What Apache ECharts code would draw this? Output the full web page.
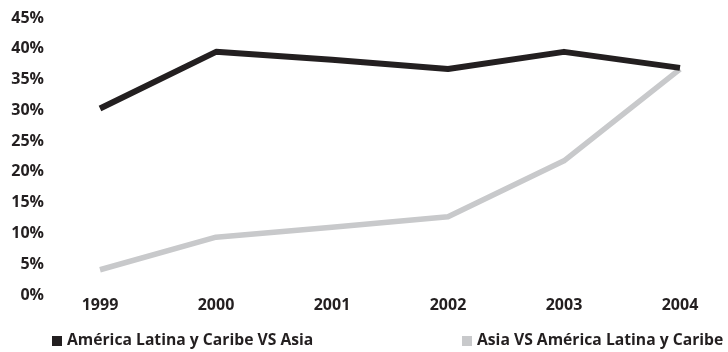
<!DOCTYPE html>
<html>
<head>
<meta charset="utf-8">
<script src="https://cdn.jsdelivr.net/npm/echarts@6/dist/echarts.min.js"></script>
<style>
  html, body { margin: 0; padding: 0; background: #fff; }
  #chart { width: 728px; height: 352px; }
</style>
</head>
<body>
<div id="chart"></div>
<script>
// Years on the horizontal axis
const years = ['1999', '2000', '2001', '2002', '2003', '2004'];
// Share (%) of each flow
const latamVsAsia = [30.3, 39.5, 38.2, 36.7, 39.5, 36.9];
const asiaVsLatam = [4.1, 9.4, 11.0, 12.7, 21.8, 36.7];
const seriesNames = ['América Latina y Caribe VS Asia', 'Asia VS América Latina y Caribe'];
// Y ticks: 0..45 step 5
const yMin = 0, yMax = 45, yStep = 5;

const font = '"Open Sans", "Noto Sans", sans-serif';
const textColor = '#231f20';

const chart = echarts.init(document.getElementById('chart'), null, { renderer: 'canvas' });
chart.setOption({
  animation: false,
  backgroundColor: '#ffffff',
  grid: { left: 100, right: 48, top: 18, bottom: 57 },
  legend: [
    {
      data: [seriesNames[0]],
      left: 52, top: 333,
      icon: 'rect', itemWidth: 10, itemHeight: 10, itemGap: 10,
      textStyle: { fontFamily: font, fontWeight: 'bold', fontSize: 15.7, color: textColor },
      padding: 0
    },
    {
      data: [seriesNames[1]],
      left: 462, top: 333,
      icon: 'rect', itemWidth: 10, itemHeight: 10, itemGap: 10,
      textStyle: { fontFamily: font, fontWeight: 'bold', fontSize: 15.7, color: textColor },
      padding: 0
    }
  ],
  xAxis: {
    type: 'category',
    data: years,
    boundaryGap: false,
    axisLine: { show: false },
    axisTick: { show: false },
    splitLine: { show: false },
    axisLabel: { fontFamily: font, fontWeight: 'bold', fontSize: 16, color: textColor, margin: 2 }
  },
  yAxis: {
    type: 'value',
    min: yMin, max: yMax, interval: yStep,
    axisLine: { show: false },
    axisTick: { show: false },
    splitLine: { show: false },
    axisLabel: { fontFamily: font, fontWeight: 'bold', fontSize: 16, color: textColor, margin: 56, formatter: '{value}%' }
  },
  series: [
    {
      name: seriesNames[0],
      type: 'line',
      data: latamVsAsia,
      symbol: 'none',
      z: 3,
      lineStyle: { color: '#231f20', width: 6, cap: 'butt', join: 'round' },
      itemStyle: { color: '#231f20' }
    },
    {
      name: seriesNames[1],
      type: 'line',
      data: asiaVsLatam,
      symbol: 'none',
      z: 2,
      lineStyle: { color: '#c8c9cb', width: 5.5, cap: 'butt', join: 'round' },
      itemStyle: { color: '#c8c9cb' }
    }
  ]
});
</script>
</body>
</html>
